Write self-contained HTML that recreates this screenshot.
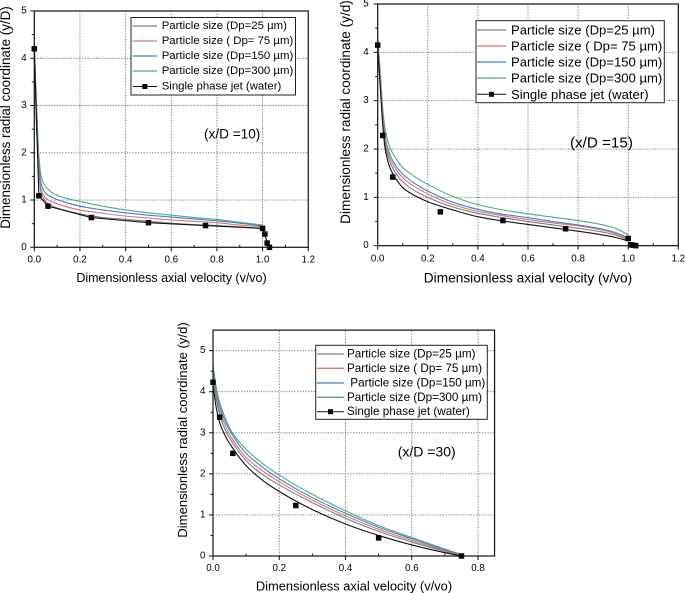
<!DOCTYPE html>
<html lang="en">
<head>
<meta charset="utf-8">
<title>Dimensionless radial coordinate vs axial velocity</title>
<style>
html,body{margin:0;padding:0;background:#fff;width:685px;height:593px;overflow:hidden}
svg{display:block;filter:blur(0.35px)}
text{font-family:"Liberation Sans",sans-serif;fill:#000}
</style>
</head>
<body>
<svg id="figure" xmlns="http://www.w3.org/2000/svg" width="685" height="593" viewBox="0 0 685 593"></svg>
<script>
// Series labels
const seriesNames = ['Particle size (Dp=25 µm)', 'Particle size ( Dp= 75 µm)', 'Particle size (Dp=150 µm)', 'Particle size (Dp=300 µm)', 'Single phase jet (water)'];

// Panel A: x/D = 10
const xA = [0, 0.005, 0.01, 0.02, 0.03, 0.05, 0.1, 0.2, 0.3, 0.4, 0.5, 0.6, 0.7, 0.8, 0.9, 1.0];
const grayA = [4.25, 3.3, 2.5, 1.6, 1.15, 0.97, 0.83, 0.71, 0.63, 0.59, 0.55, 0.51, 0.48, 0.46, 0.43, 0.40];
const redA = [4.3, 3.4, 2.6, 1.7, 1.22, 1.04, 0.92, 0.79, 0.72, 0.66, 0.62, 0.58, 0.55, 0.52, 0.47, 0.43];
const blueA = [4.3, 3.5, 2.8, 1.8, 1.35, 1.14, 1.01, 0.87, 0.79, 0.73, 0.68, 0.64, 0.60, 0.56, 0.51, 0.45];
const greenA = [4.3, 3.6, 3.0, 1.95, 1.5, 1.28, 1.10, 0.97, 0.87, 0.79, 0.73, 0.68, 0.63, 0.59, 0.53, 0.47];
const jetXA = [0, 0.02, 0.06, 0.25, 0.5, 0.75, 1.0, 1.01, 1.02, 1.03];
const jetYA = [4.2, 1.09, 0.87, 0.63, 0.52, 0.46, 0.40, 0.28, 0.09, 0];

// Panel B: x/D = 15
const xB = [0, 0.01, 0.02, 0.03, 0.05, 0.08, 0.1, 0.15, 0.2, 0.3, 0.4, 0.5, 0.6, 0.7, 0.8, 0.9, 0.95, 1.0];
const blackB = [4.1, 3.3, 2.5, 2.0, 1.6, 1.33, 1.2, 1.03, 0.91, 0.74, 0.60, 0.51, 0.44, 0.37, 0.30, 0.22, 0.17, 0.10];
const grayB = [4.15, 3.4, 2.6, 2.1, 1.72, 1.44, 1.32, 1.13, 1.0, 0.80, 0.67, 0.58, 0.50, 0.43, 0.36, 0.28, 0.22, 0.12];
const redB = [4.2, 3.5, 2.7, 2.2, 1.8, 1.53, 1.41, 1.21, 1.07, 0.85, 0.71, 0.62, 0.54, 0.47, 0.41, 0.32, 0.25, 0.14];
const blueB = [4.2, 3.5, 2.75, 2.25, 1.87, 1.6, 1.48, 1.28, 1.13, 0.90, 0.75, 0.65, 0.58, 0.50, 0.43, 0.34, 0.27, 0.16];
const greenB = [4.3, 3.6, 2.85, 2.4, 2.02, 1.75, 1.62, 1.42, 1.27, 1.02, 0.85, 0.74, 0.66, 0.59, 0.52, 0.43, 0.36, 0.22];
const jetXB = [0, 0.02, 0.06, 0.25, 0.5, 0.75, 1.0, 1.01, 1.02, 1.03];
const jetYB = [4.15, 2.28, 1.42, 0.70, 0.52, 0.35, 0.15, 0.02, 0.01, 0];

// Panel C: x/D = 30
const xC = [0, 0.01, 0.02, 0.04, 0.06, 0.1, 0.15, 0.2, 0.3, 0.4, 0.5, 0.6, 0.7, 0.75];
const blackC = [4.15, 3.6, 3.25, 2.88, 2.62, 2.2, 1.84, 1.57, 1.13, 0.78, 0.50, 0.27, 0.08, 0];
const grayC = [4.3, 3.8, 3.45, 3.02, 2.75, 2.32, 1.98, 1.73, 1.30, 0.92, 0.60, 0.34, 0.11, 0];
const redC = [4.4, 3.9, 3.55, 3.12, 2.83, 2.4, 2.07, 1.81, 1.36, 0.98, 0.65, 0.38, 0.13, 0.01];
const blueC = [4.5, 4.0, 3.65, 3.22, 2.93, 2.5, 2.16, 1.88, 1.42, 1.04, 0.70, 0.42, 0.15, 0.02];
const greenC = [4.65, 4.1, 3.75, 3.3, 2.98, 2.6, 2.25, 1.97, 1.50, 1.10, 0.74, 0.45, 0.17, 0.04];
const jetXC = [0, 0.02, 0.06, 0.25, 0.5, 0.75];
const jetYC = [4.23, 3.38, 2.5, 1.23, 0.44, 0];

// Tick labels
const xTicksWide = ['0.0', '0.2', '0.4', '0.6', '0.8', '1.0', '1.2'];
const xTicksNarrow = ['0.0', '0.2', '0.4', '0.6', '0.8'];
const yTicks = ['0', '1', '2', '3', '4', '5'];

const NS = 'http://www.w3.org/2000/svg';
const root = document.getElementById('figure');
const colors = ['#7d7d7d', '#e2706f', '#3d7fd3', '#55a97c', '#111111'];

function mk(parent, tag, attrs, txt) {
  const el = document.createElementNS(NS, tag);
  for (const k in attrs) el.setAttribute(k, attrs[k]);
  if (txt !== undefined) el.textContent = txt;
  parent.appendChild(el);
  return el;
}

// Monotone cubic path through the plotted points
function smoothPath(px, py) {
  const n = px.length;
  const slope = [];
  for (let i = 0; i < n - 1; i++) slope.push((py[i + 1] - py[i]) / (px[i + 1] - px[i]));
  const tan = [slope[0]];
  for (let i = 1; i < n - 1; i++) {
    const h0 = px[i] - px[i - 1], h1 = px[i + 1] - px[i];
    const s0 = slope[i - 1], s1 = slope[i];
    if (s0 * s1 <= 0) { tan.push(0); continue; }
    const w1 = 2 * h1 + h0, w2 = h1 + 2 * h0;
    tan.push((w1 + w2) / (w1 / s0 + w2 / s1));
  }
  tan.push(slope[n - 2]);
  let d = 'M' + px[0].toFixed(2) + ' ' + py[0].toFixed(2);
  for (let i = 0; i < n - 1; i++) {
    const h = (px[i + 1] - px[i]) / 3;
    d += 'C' + (px[i] + h).toFixed(2) + ' ' + (py[i] + h * tan[i]).toFixed(2) + ' ' + (px[i + 1] - h).toFixed(2) + ' ' + (py[i + 1] - h * tan[i + 1]).toFixed(2) + ' ' + px[i + 1].toFixed(2) + ' ' + py[i + 1].toFixed(2);
  }
  return d;
}

function drawPanel(p) {
  const g = mk(root, 'g', {});
  
  
  const sx = v => p.x0 + (v - p.xMin) * p.xUnit;
  const sy = v => p.y0 - v * p.yUnit;
  const right = sx(p.xMax), top = sy(p.yMax);

  // grid
  p.xLabels.forEach(t => {
    const v = parseFloat(t);
    if (v <= p.xMin || sx(v) >= right - 0.5) return;
    const l = mk(g, 'line', {x1: sx(v), x2: sx(v), y1: p.y0, y2: top, stroke: '#777', 'stroke-width': 0.9, 'stroke-dasharray': '1.4 1.4'});
    
    
  });
  p.yLabels.forEach(t => {
    const v = parseFloat(t);
    if (v <= 0 || sy(v) <= top + 0.5) return;
    const l = mk(g, 'line', {x1: p.x0, x2: right, y1: sy(v), y2: sy(v), stroke: '#777', 'stroke-width': 0.9, 'stroke-dasharray': '1.4 1.4'});
    
    
  });

  // smooth curves
  p.curves.forEach(c => {
    const path = mk(g, 'path', {d: smoothPath(c.x.map(sx), c.y.map(sy)), fill: 'none', stroke: c.color, 'stroke-width': 1.1, 'stroke-linejoin': 'round'});
    
    
  });

  // jet connecting line (panel A only) and markers
  if (p.connectJet) {
    const pl = mk(g, 'polyline', {points: p.jetX.map((v, i) => sx(v) + ',' + sy(p.jetY[i])).join(' '), fill: 'none', stroke: '#111', 'stroke-width': 1.1});
    
    
  }
  p.jetX.forEach((v, i) => {
    const s = 5.5;
    const m = mk(g, 'rect', {x: sx(v) - s / 2, y: sy(p.jetY[i]) - s / 2, width: s, height: s, fill: '#0a0a0a'});
    
    
  });

  // frame
  const frame = mk(g, 'rect', {x: p.x0, y: top, width: right - p.x0, height: p.y0 - top, fill: 'none', stroke: '#111', 'stroke-width': 1.2});
  
  

  // x ticks
  p.xLabels.forEach(t => {
    const v = parseFloat(t);
    mk(g, 'line', {x1: sx(v), x2: sx(v), y1: p.y0, y2: p.y0 + 4, stroke: '#111', 'stroke-width': 1});
    const lab = mk(g, 'text', {x: sx(v), y: p.xTickY, 'font-size': p.tickFont, 'text-anchor': 'middle', 'dominant-baseline': 'central'}, t);
    
    
    const mv = v + 0.1;
    if (mv < p.xMax) mk(g, 'line', {x1: sx(mv), x2: sx(mv), y1: p.y0, y2: p.y0 - 2.5, stroke: '#111', 'stroke-width': 1});
  });
  // y ticks
  p.yLabels.forEach(t => {
    const v = parseFloat(t);
    mk(g, 'line', {x1: p.x0, x2: p.x0 - 4, y1: sy(v), y2: sy(v), stroke: '#111', 'stroke-width': 1});
    const lab = mk(g, 'text', {x: p.yTickX, y: sy(v), 'font-size': p.tickFont, 'text-anchor': 'middle', 'dominant-baseline': 'central'}, t);
    
    
    const mv = v + 0.5;
    if (mv < p.yMax) mk(g, 'line', {x1: p.x0, x2: p.x0 - 2.5, y1: sy(mv), y2: sy(mv), stroke: '#111', 'stroke-width': 1});
  });

  // axis titles
  const xt = mk(g, 'text', {x: p.xTitle[0], y: p.xTitle[1], 'font-size': p.xTitle[2], 'text-anchor': 'middle', 'dominant-baseline': 'central'}, 'Dimensionless axial velocity (v/vo)');
  
  
  const yt = mk(g, 'text', {transform: 'translate(' + p.yTitle[0] + ' ' + p.yTitle[1] + ') rotate(-90)', 'font-size': p.yTitle[2], 'text-anchor': 'middle', 'dominant-baseline': 'central'}, p.yTitleText);
  
  

  // legend
  const L = p.legend;
  const lg = mk(g, 'g', {});
  
  
  mk(lg, 'rect', {x: L.x, y: L.y, width: L.w, height: L.h, fill: '#fff', stroke: '#222', 'stroke-width': 1});
  L.rows.forEach((ry, i) => {
    const entry = mk(lg, 'g', {});
    
    
    mk(entry, 'line', {x1: L.lx1, x2: L.lx2, y1: ry, y2: ry, stroke: colors[i], 'stroke-width': i === 4 ? 1 : 1.3});
    if (i === 4) mk(entry, 'rect', {x: (L.lx1 + L.lx2) / 2 - 2.5, y: ry - 2.5, width: 5, height: 5, fill: '#0a0a0a'});
    mk(entry, 'text', {x: L.tx + (L.shift && L.shift[i] || 0), y: ry, 'font-size': L.font, 'dominant-baseline': 'central'}, seriesNames[i]);
  });

  // annotation
  const an = mk(g, 'text', {x: p.note[0], y: p.note[1], 'font-size': p.note[2], 'dominant-baseline': 'central'}, p.noteText);
  
  
}

drawPanel({
  name: 'panel-x-d-10', x0: 34.3, y0: 247.3, xMin: 0, xMax: 1.2, yMax: 5, xUnit: 228.3, yUnit: 47.26,
  xLabels: xTicksWide, yLabels: yTicks, tickFont: 9.8, xTickY: 260, yTickX: 24,
  xTitle: [171.5, 278, 12.5], yTitle: [5.5, 117.5, 13.4], yTitleText: 'Dimensionless radial coordinate (y/D)',
  curves: [
    {name: 'curve-dp-300', x: xA, y: greenA, color: colors[3]},
    {name: 'curve-dp-150', x: xA, y: blueA, color: colors[2]},
    {name: 'curve-dp-75', x: xA, y: redA, color: colors[1]},
    {name: 'curve-dp-25', x: xA, y: grayA, color: colors[0]}
  ],
  connectJet: true, jetX: jetXA, jetY: jetYA,
  legend: {x: 131, y: 17.5, w: 164.5, h: 77.5, rows: [26, 41, 56, 71, 86.5], lx1: 132.7, lx2: 157, tx: 161.7, font: 11.4},
  note: [204, 134, 13.6], noteText: '(x/D =10)'
});

drawPanel({
  name: 'panel-x-d-15', x0: 377.7, y0: 245.7, xMin: 0, xMax: 1.2, yMax: 5, xUnit: 250.5, yUnit: 48.34,
  xLabels: xTicksWide, yLabels: yTicks, tickFont: 9.8, xTickY: 259, yTickX: 366,
  xTitle: [528, 278, 13.7], yTitle: [345.5, 112, 13.6], yTitleText: 'Dimensionless radial coordinate (y/d)',
  curves: [
    {name: 'curve-dp-300', x: xB, y: greenB, color: colors[3]},
    {name: 'curve-dp-150', x: xB, y: blueB, color: colors[2]},
    {name: 'curve-dp-75', x: xB, y: redB, color: colors[1]},
    {name: 'curve-dp-25', x: xB, y: grayB, color: colors[0]},
    {name: 'curve-water', x: xB, y: blackB, color: colors[4]}
  ],
  connectJet: false, jetX: jetXB, jetY: jetYB,
  legend: {x: 476, y: 20.7, w: 188.3, h: 82, rows: [30, 46, 62, 78, 94.3], lx1: 477, lx2: 506, tx: 511, font: 13.1},
  note: [570, 143, 15.2], noteText: '(x/D =15)'
});

drawPanel({
  name: 'panel-x-d-30', x0: 213, y0: 556, xMin: 0, xMax: 0.85, yMax: 5.5, xUnit: 331.25, yUnit: 41.07,
  xLabels: xTicksNarrow, yLabels: yTicks, tickFont: 9.8, xTickY: 568.7, yTickX: 202.7,
  xTitle: [354, 586, 12.9], yTitle: [182.5, 430, 13.1], yTitleText: 'Dimensionless radial coordinate (y/d)',
  curves: [
    {name: 'curve-dp-300', x: xC, y: greenC, color: colors[3]},
    {name: 'curve-dp-150', x: xC, y: blueC, color: colors[2]},
    {name: 'curve-dp-75', x: xC, y: redC, color: colors[1]},
    {name: 'curve-dp-25', x: xC, y: grayC, color: colors[0]},
    {name: 'curve-water', x: xC, y: blackC, color: colors[4]}
  ],
  connectJet: false, jetX: jetXC, jetY: jetYC,
  legend: {x: 315.7, y: 345.3, w: 171.6, h: 74, rows: [354, 368.3, 383, 397.3, 411.7], lx1: 317, lx2: 344, tx: 347, font: 11.7, shift: [0, 0, 3.3, 0, 0]},
  note: [397.7, 451.7, 14], noteText: '(x/D =30)'
});
</script>
</body>
</html>
